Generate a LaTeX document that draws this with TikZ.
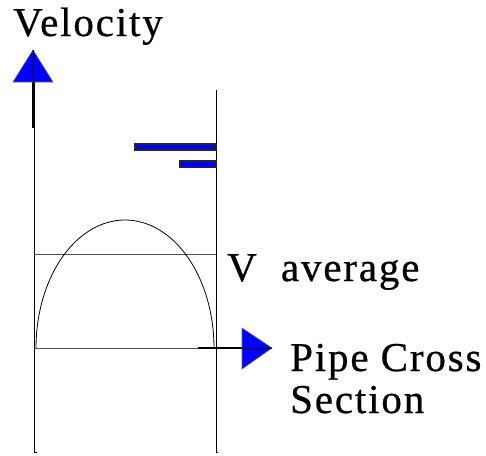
\documentclass[tikz,border=0pt]{standalone}
\usepackage{fontspec}
\setmainfont[LetterSpace=4.5,FakeBold=0.6]{Liberation Serif}
\begin{document}
\begin{tikzpicture}[x=1pt,y=-1pt,
  lbl/.style={inner sep=0pt,anchor=base west,font=\rmfamily\fontsize{41}{42}\selectfont},
  wall/.style={draw=black,line width=1pt},
  avg/.style={draw=black!70,line width=1pt},
  tri/.style={fill=blue,draw=black!60,line width=0.6pt},
  bar/.style={fill=blue,draw=black!85,line width=1.2pt}]
\useasboundingbox (0,0) rectangle (486,455);
% coordinates
\coordinate (vtip) at (33,50);
\coordinate (vend) at (33,128);
\coordinate (lwtop) at (34,82);
\coordinate (lwbot) at (34,452);
\coordinate (rwtop) at (216,90);
\coordinate (rwbot) at (216,452);
\coordinate (avgl) at (34,254);
\coordinate (avgr) at (216,254);
\coordinate (axl) at (34,348);
\coordinate (axm) at (198,348);
\coordinate (htip) at (272,348);
% pipe walls
\draw[wall] (lwtop) -- (lwbot) -- ++(3,0);
\draw[wall] (rwtop) -- (rwbot) -- ++(2,0);
% average line and base axis
\draw[avg] (avgl) -- (avgr);
\draw[avg] (axl) -- (axm);
% velocity profile
\draw[line width=0.8pt] plot[domain=0:180,samples=80] ({125-89*cos(\x)},{348-128*sin(\x)});
% vertical axis arrow
\draw[line width=2pt] (vtip) -- (vend);
\path[tri] (vtip) -- (53,82) -- (13,82) -- cycle;
\draw[line width=0.8pt] (vtip) -- (33,82);
% horizontal axis arrow
\draw[line width=1.5pt] (axm) -- (htip);
\path[tri] (htip) -- (242,328) -- (242,369) -- cycle;
\draw[line width=0.8pt] (242,348) -- (htip);
% velocity bars
\path[bar] (135,144) rectangle (216,150);
\path[bar] (180,161) rectangle (216,167.5);
% labels
\node[lbl] (velocity) at (13,36) {Velocity};
\node[lbl] (vavg) at (227,281) {V\ \ average};
\node[lbl] (pipe) at (290,371) {Pipe Cross};
\node[lbl] (section) at (290,413) {Section};
\end{tikzpicture}
\end{document}
